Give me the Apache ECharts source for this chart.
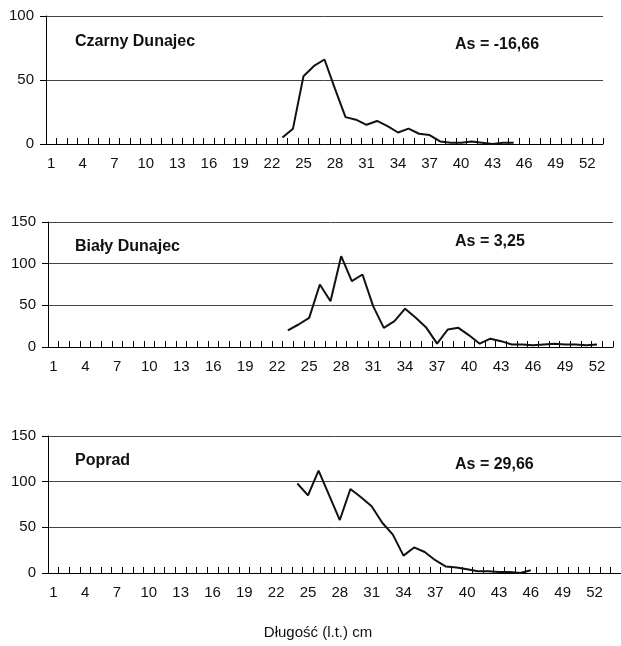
<!DOCTYPE html>
<html>
<head>
<meta charset="utf-8">
<script src="https://cdn.jsdelivr.net/npm/echarts@6/dist/echarts.min.js"></script>
<style>
html,body{margin:0;padding:0;background:#fff;}
#chart{width:621px;height:646px;}
</style>
</head>
<body>
<div id="chart"></div>
<script>
// Length classes (cm)
const categories = ['1','2','3','4','5','6','7','8','9','10','11','12','13','14','15','16','17','18','19','20','21','22','23','24','25','26','27','28','29','30','31','32','33','34','35','36','37','38','39','40','41','42','43','44','45','46','47','48','49','50','51','52','53','54'];

// Czarny Dunajec: values starting at length 23
const czarnyStart = 23;
const czarnyValues = [5, 12, 53, 61, 66, 43, 21, 19, 15, 18, 14, 9, 12, 8, 7, 2, 1, 1, 2, 1, 0, 1, 1];
// Biały Dunajec: values starting at length 23
const bialyStart = 23;
const bialyValues = [20, 27, 35, 75, 55, 109, 79, 87, 49, 23, 31, 46, 35, 23, 4, 21, 23, 14, 4, 10, 7, 3, 3, 2, 3, 4, 3, 3, 2, 3];
// Poprad: values starting at length 24
const popradStart = 24;
const popradValues = [98, 85, 112, 85, 58, 92, 83, 73, 55, 42, 19, 28, 23, 14, 7, 6, 4, 2, 2, 1, 1, 0, 3];

const panelNames = ['Czarny Dunajec', 'Biały Dunajec', 'Poprad'];
const asLabels = ['As = -16,66', 'As = 3,25', 'As = 29,66'];
const yMax = [100, 150, 150];
const axisTitle = 'Długość (l.t.) cm';

function buildData(start, values, n) {
  const out = [];
  for (let i = 1; i <= n; i++) {
    const idx = i - start;
    out.push(idx >= 0 && idx < values.length ? values[idx] : null);
  }
  return out;
}

const nCats = [53, 53, 54];
const grids = [
  {left: 46, width: 557, top: 16, height: 128},
  {left: 48, width: 565, top: 222, height: 125},
  {left: 48, width: 573, top: 436, height: 137}
];
const font = '"Liberation Sans", Arial, Helvetica, sans-serif';

const xAxes = [], yAxes = [], series = [];
const seriesValues = [[czarnyStart, czarnyValues], [bialyStart, bialyValues], [popradStart, popradValues]];
for (let i = 0; i < 3; i++) {
  xAxes.push({
    type: 'category', gridIndex: i,
    data: categories.slice(0, nCats[i]),
    boundaryGap: true,
    axisLine: {show: true, lineStyle: {color: '#000', width: 1}},
    axisTick: {show: true, inside: true, length: 6, interval: 0, lineStyle: {color: '#000', width: 1}},
    axisLabel: {interval: 2, color: '#111', fontSize: 15, fontFamily: font, margin: 12},
    splitLine: {show: false}
  });
  yAxes.push({
    type: 'value', gridIndex: i, min: 0, max: yMax[i], interval: 50,
    axisLine: {show: true, lineStyle: {color: '#000', width: 1}},
    axisTick: {show: true, inside: false, length: 6, lineStyle: {color: '#000'}},
    axisLabel: {color: '#111', fontSize: 15, fontFamily: font, margin: 12},
    splitLine: {show: true, lineStyle: {color: '#444', width: 1}}
  });
  series.push({
    type: 'line', xAxisIndex: i, yAxisIndex: i,
    data: buildData(seriesValues[i][0], seriesValues[i][1], nCats[i]),
    showSymbol: false, symbol: 'none',
    lineStyle: {color: '#111', width: 2},
    connectNulls: false, animation: false
  });
}

const nameY = [42, 247, 461];
const asY = [45, 242, 465];
const graphics = [];
for (let i = 0; i < 3; i++) {
  graphics.push({type: 'text', x: 75, y: nameY[i], style: {text: panelNames[i], font: 'bold 16px ' + font, fill: '#111', verticalAlign: 'middle'}});
  graphics.push({type: 'text', x: 455, y: asY[i], style: {text: asLabels[i], font: 'bold 16px ' + font, fill: '#111', verticalAlign: 'middle'}});
}
graphics.push({type: 'text', x: 318, y: 633, style: {text: axisTitle, font: '15px ' + font, fill: '#111', align: 'center', verticalAlign: 'middle'}});

const chart = echarts.init(document.getElementById('chart'), null, {renderer: 'canvas'});
chart.setOption({
  animation: false,
  backgroundColor: '#fff',
  grid: grids,
  xAxis: xAxes,
  yAxis: yAxes,
  series: series,
  graphic: graphics
});
</script>
</body>
</html>
